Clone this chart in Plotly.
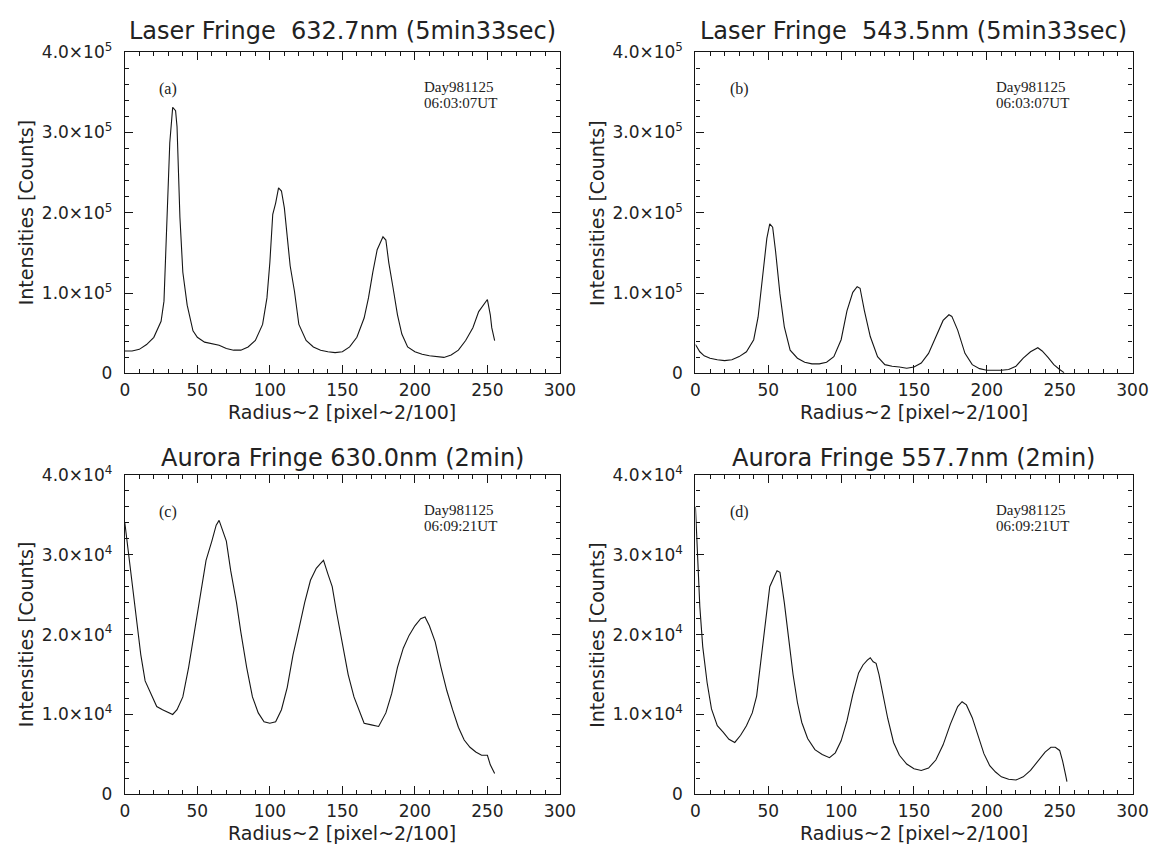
import plotly.graph_objects as go

# ---------------- data ----------------
# (a) Laser fringe 632.7 nm
xa = [0, 5, 10, 15, 20, 25, 27, 29, 31, 33, 35, 36, 38, 40, 43, 47, 50, 55, 60, 65, 70, 75, 80, 85, 90,
      95, 98, 100, 102, 104, 106, 108, 110, 112, 114, 117, 120, 125, 130, 135, 140, 145, 150, 155, 160,
      165, 168, 171, 174, 176, 178, 180, 182, 185, 188, 191, 195, 200, 205, 210, 215, 220, 225, 230,
      235, 240, 244, 247, 249, 250, 252, 253, 255]
ya = [28e3, 28e3, 30e3, 36e3, 45e3, 65e3, 90e3, 186e3, 287e3, 331e3, 327e3, 307e3, 194e3, 126e3, 85e3,
      53e3, 45e3, 39e3, 37e3, 35e3, 31e3, 29e3, 29e3, 33e3, 41e3, 61e3, 94e3, 138e3, 198e3, 212e3, 231e3,
      227e3, 206e3, 166e3, 134e3, 102e3, 61e3, 41e3, 33e3, 29e3, 27e3, 26e3, 27e3, 33e3, 45e3, 69e3,
      94e3, 126e3, 154e3, 162e3, 170e3, 166e3, 138e3, 106e3, 73e3, 49e3, 33e3, 27e3, 24e3, 22e3, 21e3,
      20e3, 23e3, 29e3, 41e3, 57e3, 77e3, 85e3, 90e3, 92e3, 73e3, 57e3, 41e3]

# (b) Laser fringe 543.5 nm
xb = [0, 3, 6, 10, 15, 20, 25, 30, 35, 40, 43, 46, 49, 51, 53, 55, 58, 61, 65, 70, 75, 80, 85, 90, 95,
      100, 104, 108, 111, 113, 116, 120, 125, 130, 135, 140, 145, 150, 155, 160, 165, 170, 174, 176,
      180, 185, 190, 195, 200, 210, 215, 220, 225, 230, 235, 238, 242, 246, 250, 253]
yb = [36e3, 27e3, 22e3, 19e3, 17e3, 16e3, 17e3, 21e3, 27e3, 42e3, 70e3, 119e3, 168e3, 186e3, 182e3,
      152e3, 99e3, 58e3, 29e3, 19e3, 14e3, 12e3, 12e3, 14e3, 21e3, 42e3, 78e3, 101e3, 108e3, 106e3,
      78e3, 46e3, 21e3, 11e3, 9e3, 8e3, 6.5e3, 8e3, 13e3, 25e3, 46e3, 66e3, 73e3, 71e3, 54e3, 25e3,
      11e3, 6e3, 4e3, 4e3, 5e3, 9e3, 19e3, 27e3, 32e3, 28e3, 20e3, 11e3, 5e3, 1e3]

# (c) Aurora fringe 630.0 nm
xc = [0, 1, 3, 5, 8, 11, 14, 18, 22, 26, 30, 33, 36, 40, 44, 48, 52, 56, 60, 63, 65, 67, 70, 73, 77, 80,
      84, 88, 92, 96, 100, 104, 108, 112, 116, 120, 124, 128, 132, 135, 137, 140, 143, 146, 150, 154,
      158, 162, 165, 170, 175, 180, 184, 188, 192, 196, 200, 204, 207, 210, 214, 218, 222, 226, 230,
      234, 238, 242, 246, 250, 252, 255]
yc = [34.0e3, 32.5e3, 29.7e3, 27.2e3, 22.4e3, 17.5e3, 14.2e3, 12.6e3, 11.0e3, 10.6e3, 10.2e3, 10.0e3,
      10.6e3, 12.2e3, 15.9e3, 20.3e3, 25.2e3, 29.3e3, 31.7e3, 33.7e3, 34.3e3, 33.3e3, 31.7e3, 28.0e3,
      24.0e3, 20.3e3, 15.9e3, 12.2e3, 10.2e3, 9.1e3, 8.9e3, 9.1e3, 10.6e3, 13.4e3, 17.5e3, 20.7e3,
      24.0e3, 26.8e3, 28.3e3, 28.9e3, 29.3e3, 27.6e3, 26.0e3, 22.8e3, 18.7e3, 15.0e3, 12.2e3, 10.2e3,
      8.9e3, 8.7e3, 8.5e3, 10.2e3, 12.6e3, 15.9e3, 18.3e3, 19.9e3, 21.1e3, 22.0e3, 22.2e3, 21.1e3,
      19.1e3, 15.9e3, 13.0e3, 10.6e3, 8.4e3, 6.8e3, 5.9e3, 5.3e3, 4.9e3, 4.9e3, 3.7e3, 2.6e3]

# (d) Aurora fringe 557.7 nm
xd = [0, 1, 3, 5, 8, 11, 15, 19, 23, 27, 31, 35, 39, 42, 45, 48, 51, 54, 56, 58, 61, 64, 67, 70, 73, 77,
      82, 87, 92, 96, 100, 104, 108, 112, 115, 118, 120, 122, 124, 126, 129, 132, 136, 140, 145, 150,
      155, 160, 165, 170, 175, 180, 183, 186, 190, 194, 198, 202, 206, 210, 215, 220, 225, 230, 235,
      240, 244, 247, 250, 252, 254, 255]
yd = [36e3, 31e3, 23.5e3, 18.5e3, 14.0e3, 10.7e3, 8.6e3, 7.8e3, 6.9e3, 6.5e3, 7.4e3, 8.6e3, 10.2e3,
      12.3e3, 16.9e3, 21.8e3, 26.0e3, 27.2e3, 28.0e3, 27.8e3, 24e3, 19.5e3, 15e3, 11.5e3, 9e3, 7e3,
      5.6e3, 5e3, 4.6e3, 5.2e3, 6.7e3, 9.2e3, 12.5e3, 15.2e3, 16.2e3, 16.8e3, 17.1e3, 16.6e3, 16.4e3,
      15e3, 12.4e3, 9.5e3, 6.5e3, 4.9e3, 3.8e3, 3.2e3, 3.0e3, 3.3e3, 4.3e3, 6.2e3, 8.8e3, 11e3, 11.6e3,
      11.2e3, 9.6e3, 7.3e3, 5.1e3, 3.6e3, 2.8e3, 2.2e3, 1.9e3, 1.8e3, 2.2e3, 3.0e3, 4.2e3, 5.3e3,
      5.9e3, 5.9e3, 5.5e3, 4.2e3, 2.5e3, 1.6e3]

titles = ["Laser Fringe\u00a0\u00a0632.7nm (5min33sec)",
          "Laser Fringe\u00a0\u00a0543.5nm (5min33sec)",
          "Aurora Fringe 630.0nm (2min)",
          "Aurora Fringe 557.7nm (2min)"]
panel_labels = ["(a)", "(b)", "(c)", "(d)"]
day_labels = ["Day981125", "Day981125", "Day981125", "Day981125"]
time_labels = ["06:03:07UT", "06:03:07UT", "06:09:21UT", "06:09:21UT"]

x_ticks = [0, 50, 100, 150, 200, 250, 300]
y_ticks_laser = [0, 1e5, 2e5, 3e5, 4e5]
y_text_laser = ["0", "1.0×10<sup>5</sup>", "2.0×10<sup>5</sup>", "3.0×10<sup>5</sup>", "4.0×10<sup>5</sup>"]
y_ticks_aurora = [0, 1e4, 2e4, 3e4, 4e4]
y_text_aurora = ["0", "1.0×10<sup>4</sup>", "2.0×10<sup>4</sup>", "3.0×10<sup>4</sup>", "4.0×10<sup>4</sup>"]
x_title = "Radius~2 [pixel~2/100]"
y_title = "Intensities [Counts]"

# ---------------- layout geometry ----------------
W, H = 1176, 857
col_px = [(122, 565), (703, 1148)]
row_px = [(41, 371), (475, 803)]
title_px = [20, 458]


def px_x(p):
    return p / W


def px_y(p):
    return 1 - p / H


series = [(xa, ya), (xb, yb), (xc, yc), (xd, yd)]
fig = go.Figure()

FONT = "DejaVu Sans"
SERIF = "Liberation Serif"
INK = "#151515"
TXT = "#222222"

layout = dict(width=W, height=H, margin=dict(l=0, r=0, t=0, b=0),
              paper_bgcolor="white", plot_bgcolor="white", showlegend=False)
annotations = []

for i, (xs, ys) in enumerate(series):
    r, c = divmod(i, 2)
    n = "" if i == 0 else str(i + 1)
    fig.add_trace(go.Scatter(x=xs, y=ys, mode="lines", xaxis="x" + n, yaxis="y" + n,
                             line=dict(color=INK, width=1.1), hoverinfo="skip"))
    x0, x1 = col_px[c]
    y0, y1 = row_px[r]
    common = dict(showline=True, linecolor=INK, linewidth=1.2, mirror="allticks",
                  ticks="inside", ticklen=8, tickwidth=1, tickcolor=INK,
                  showgrid=False, zeroline=False, fixedrange=True,
                  tickfont=dict(family=FONT, size=17, color=TXT))
    layout["xaxis" + n] = dict(common, domain=[px_x(x0), px_x(x1)], anchor="y" + n,
                               range=[0, 300], tickvals=x_ticks, ticklabelstandoff=1,
                               minor=dict(ticks="inside", ticklen=4, dtick=10, tickcolor=INK, showgrid=False))
    if r == 0:
        yv, yt, md = y_ticks_laser, y_text_laser, 2e4
        rng = [0, 4e5]
    else:
        yv, yt, md = y_ticks_aurora, y_text_aurora, 2e3
        rng = [0, 4e4]
    layout["yaxis" + n] = dict(common, domain=[px_y(y1), px_y(y0)], anchor="x" + n,
                               range=rng, tickvals=yv, ticktext=yt, ticklabelstandoff=8,
                               minor=dict(ticks="inside", ticklen=4, dtick=md, tickcolor=INK, showgrid=False))
    cx = (x0 + x1) / 2
    # panel title
    annotations.append(dict(text=titles[i], x=px_x(cx), y=px_y(title_px[r]), xref="paper", yref="paper",
                            xanchor="center", yanchor="middle", showarrow=False,
                            font=dict(family=FONT, size=24, color=TXT)))
    # x axis title
    annotations.append(dict(text=x_title, x=px_x(cx), y=px_y(y1 + 40), xref="paper", yref="paper",
                            xanchor="center", yanchor="middle", showarrow=False,
                            font=dict(family=FONT, size=19, color=TXT)))
    # y axis title
    annotations.append(dict(text=y_title, x=px_x(x0 - 101), y=px_y((y0 + y1) / 2), xref="paper", yref="paper",
                            xanchor="center", yanchor="middle", textangle=-90, showarrow=False,
                            font=dict(family=FONT, size=19, color=TXT)))
    # panel label
    annotations.append(dict(text=panel_labels[i], x=0.10, y=0.885, xref="x" + n + " domain",
                            yref="y" + n + " domain", xanchor="center", yanchor="middle", showarrow=False,
                            font=dict(family=SERIF, size=16, color=TXT)))
    # date / time stamp (two tight lines)
    annotations.append(dict(text=day_labels[i], x=0.685, y=0.890, xref="x" + n + " domain",
                            yref="y" + n + " domain", xanchor="left", yanchor="middle",
                            showarrow=False, borderpad=0, font=dict(family=SERIF, size=15, color=TXT)))
    annotations.append(dict(text=time_labels[i], x=0.685, y=0.840, xref="x" + n + " domain",
                            yref="y" + n + " domain", xanchor="left", yanchor="middle",
                            showarrow=False, borderpad=0, font=dict(family=SERIF, size=15, color=TXT)))

layout["annotations"] = annotations
fig.update_layout(**layout)
fig.write_html("out.html", config={"displayModeBar": False},
               post_script="document.body.style.margin='0px';")
